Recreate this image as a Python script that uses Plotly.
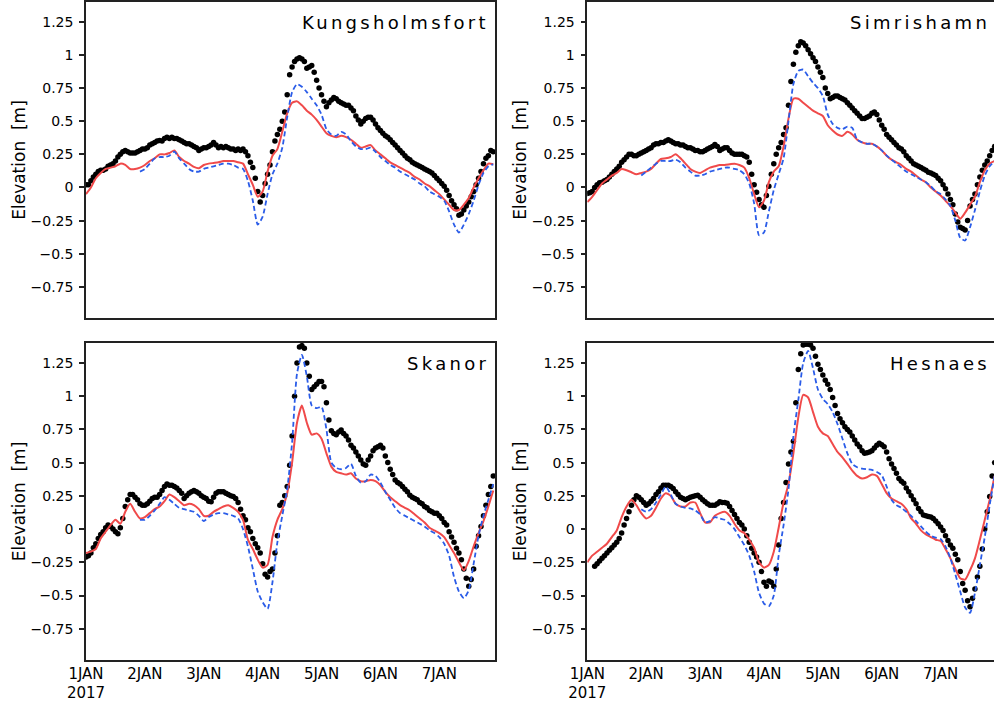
import plotly.graph_objects as go

# ---------------- data ----------------
stations = ["Kungsholmsfort", "Simrishamn", "Skanor", "Hesnaes"]

obs_hours = list(range(0, 167))        # hourly observations, hours since 1 JAN 2017 00:00
model_hours = list(range(0, 167, 2))   # 2-hourly model output

tick_hours = [0, 24, 48, 72, 96, 120, 144]
tick_labels = ["1JAN<br>2017", "2JAN", "3JAN", "4JAN", "5JAN", "6JAN", "7JAN"]
y_ticks = [1.25, 1, 0.75, 0.5, 0.25, 0, -0.25, -0.5, -0.75]
y_tick_labels = ["1.25", "1", "0.75", "0.5", "0.25", "0", "\u22120.25", "\u22120.5", "\u22120.75"]

# Kungsholmsfort
kung_obs = [
    0.02, 0.02, 0.05, 0.08, 0.10, 0.12, 0.13, 0.13, 0.14, 0.16, 0.17, 0.18,
    0.20, 0.23, 0.25, 0.27, 0.28, 0.27, 0.26, 0.26, 0.26, 0.27, 0.28, 0.29,
    0.29, 0.30, 0.32, 0.33, 0.34, 0.35, 0.355, 0.35, 0.37, 0.38, 0.37, 0.38,
    0.37, 0.37, 0.36, 0.35, 0.34, 0.33, 0.33, 0.32, 0.31, 0.30, 0.28, 0.29,
    0.30, 0.30, 0.31, 0.32, 0.34, 0.32, 0.30, 0.31, 0.30, 0.31, 0.30, 0.29,
    0.29, 0.28, 0.29, 0.28, 0.29, 0.27, 0.24, 0.19, 0.15, 0.07, -0.03, -0.11,
    -0.06, 0.03, 0.10, 0.17, 0.27, 0.35, 0.40, 0.44, 0.50, 0.57, 0.70, 0.85,
    0.91, 0.95, 0.97, 0.98, 0.97, 0.95, 0.90, 0.91, 0.92, 0.87, 0.81, 0.75,
    0.70, 0.65, 0.61, 0.64, 0.66, 0.68, 0.67, 0.65, 0.64, 0.63, 0.62, 0.62,
    0.60, 0.58, 0.54, 0.51, 0.48, 0.50, 0.52, 0.53, 0.53, 0.51, 0.48, 0.45,
    0.43, 0.41, 0.39, 0.38, 0.36, 0.34, 0.32, 0.30, 0.28, 0.26, 0.24, 0.22,
    0.21, 0.19, 0.18, 0.17, 0.16, 0.15, 0.14, 0.13, 0.12, 0.11, 0.09, 0.07,
    0.05, 0.03, 0.01, -0.02, -0.06, -0.10, -0.13, -0.16, -0.21, -0.20, -0.17, -0.14,
    -0.11, -0.07, -0.03, 0.02, 0.07, 0.12, 0.18, 0.22, 0.24, 0.28, 0.27,
]
kung_red = [
    -0.05, 0.00, 0.07, 0.11, 0.14, 0.15, 0.16, 0.18, 0.17, 0.14, 0.14, 0.15,
    0.17, 0.20, 0.22, 0.25, 0.25, 0.26, 0.28, 0.23, 0.20, 0.18, 0.155, 0.145,
    0.17, 0.18, 0.185, 0.19, 0.20, 0.20, 0.20, 0.19, 0.18, 0.10, 0.02, -0.07,
    -0.03, 0.12, 0.24, 0.29, 0.42, 0.56, 0.64, 0.65, 0.62, 0.58, 0.55, 0.51,
    0.46, 0.41, 0.39, 0.38, 0.39, 0.38, 0.36, 0.33, 0.30, 0.31, 0.32, 0.28,
    0.25, 0.22, 0.19, 0.17, 0.15, 0.13, 0.11, 0.08, 0.06, 0.03, 0.01, -0.02,
    -0.05, -0.09, -0.13, -0.17, -0.17, -0.13, -0.08, 0.00, 0.07, 0.13, 0.18, 0.175,
]
kung_blue = [
    None, None, None, None, None, None, None, None, None, None, None, 0.12,
    0.14, 0.18, 0.22, 0.23, 0.23, 0.24, 0.27, 0.22, 0.18, 0.14, 0.12, 0.12,
    0.14, 0.15, 0.16, 0.17, 0.18, 0.18, 0.17, 0.15, 0.14, 0.05, -0.10, -0.28,
    -0.22, -0.05, 0.10, 0.18, 0.30, 0.53, 0.72, 0.78, 0.76, 0.72, 0.67, 0.62,
    0.55, 0.44, 0.40, 0.39, 0.42, 0.40, 0.35, 0.31, 0.29, 0.29, 0.30, 0.27,
    0.23, 0.20, 0.17, 0.15, 0.12, 0.10, 0.08, 0.06, 0.03, 0.01, -0.03, -0.05,
    -0.07, -0.10, -0.18, -0.28, -0.34, -0.28, -0.20, -0.10, 0.02, 0.11, 0.16, 0.175,
]

# Simrishamn
simr_obs = [
    -0.045, -0.04, -0.03, 0.00, 0.02, 0.035, 0.04, 0.05, 0.06, 0.08, 0.10, 0.12,
    0.14, 0.16, 0.19, 0.21, 0.23, 0.25, 0.25, 0.24, 0.24, 0.25, 0.26, 0.27,
    0.28, 0.29, 0.30, 0.32, 0.33, 0.33, 0.34, 0.34, 0.35, 0.36, 0.35, 0.34,
    0.33, 0.33, 0.32, 0.32, 0.31, 0.30, 0.30, 0.29, 0.28, 0.28, 0.27, 0.27,
    0.28, 0.29, 0.30, 0.31, 0.325, 0.31, 0.28, 0.29, 0.30, 0.30, 0.28, 0.26,
    0.25, 0.25, 0.25, 0.25, 0.24, 0.23, 0.19, 0.10, 0.02, -0.035, -0.09, -0.13,
    -0.15, -0.06, 0.01, 0.10, 0.18, 0.25, 0.30, 0.34, 0.40, 0.45, 0.62, 0.80,
    0.93, 1.02, 1.07, 1.10, 1.09, 1.07, 1.04, 1.01, 0.98, 0.95, 0.91, 0.87,
    0.83, 0.75, 0.71, 0.67, 0.68, 0.69, 0.69, 0.68, 0.67, 0.66, 0.64, 0.62,
    0.60, 0.58, 0.56, 0.54, 0.52, 0.52, 0.53, 0.54, 0.56, 0.57, 0.55, 0.51,
    0.47, 0.44, 0.40, 0.38, 0.36, 0.34, 0.32, 0.30, 0.29, 0.27, 0.24, 0.22,
    0.20, 0.18, 0.17, 0.16, 0.15, 0.14, 0.13, 0.115, 0.11, 0.10, 0.09, 0.07,
    0.05, 0.02, -0.01, -0.05, -0.09, -0.13, -0.20, -0.26, -0.30, -0.31, -0.32, -0.25,
    -0.14, -0.09, -0.05, 0.02, 0.08, 0.13, 0.17, 0.20, 0.24, 0.28, 0.31,
]
simr_red = [
    -0.11, -0.07, -0.02, 0.03, 0.06, 0.09, 0.11, 0.14, 0.13, 0.115, 0.10, 0.11,
    0.12, 0.14, 0.18, 0.215, 0.22, 0.23, 0.25, 0.22, 0.18, 0.14, 0.12, 0.11,
    0.13, 0.15, 0.16, 0.17, 0.17, 0.175, 0.18, 0.17, 0.15, 0.07, -0.05, -0.15,
    -0.10, 0.04, 0.12, 0.16, 0.31, 0.52, 0.67, 0.67, 0.64, 0.61, 0.58, 0.56,
    0.54, 0.47, 0.43, 0.40, 0.39, 0.42, 0.40, 0.36, 0.34, 0.33, 0.33, 0.31,
    0.28, 0.24, 0.21, 0.19, 0.17, 0.14, 0.12, 0.09, 0.06, 0.04, 0.00, -0.03,
    -0.06, -0.10, -0.14, -0.19, -0.235, -0.19, -0.13, -0.07, 0.04, 0.13, 0.18, 0.20,
]
simr_blue = [
    None, None, None, None, None, None, None, None, None, None, None, 0.09,
    0.12, 0.15, 0.18, 0.20, 0.20, 0.20, 0.21, 0.19, 0.15, 0.12, 0.09, 0.09,
    0.10, 0.12, 0.13, 0.14, 0.15, 0.15, 0.14, 0.13, 0.10, 0.03, -0.12, -0.36,
    -0.34, -0.18, -0.02, 0.10, 0.22, 0.50, 0.78, 0.88, 0.89, 0.84, 0.79, 0.75,
    0.69, 0.55, 0.48, 0.45, 0.44, 0.46, 0.45, 0.36, 0.34, 0.33, 0.33, 0.31,
    0.28, 0.24, 0.21, 0.18, 0.15, 0.12, 0.10, 0.08, 0.06, 0.04, 0.01, -0.03,
    -0.05, -0.09, -0.14, -0.25, -0.38, -0.40, -0.30, -0.17, -0.03, 0.09, 0.16, 0.20,
]

# Skanor
skan_obs = [
    -0.21, -0.20, -0.18, -0.14, -0.11, -0.07, -0.04, -0.02, 0.01, 0.03, 0.02, 0.00,
    -0.02, -0.035, 0.01, 0.08, 0.17, 0.22, 0.26, 0.26, 0.24, 0.22, 0.19, 0.18,
    0.18, 0.19, 0.21, 0.23, 0.24, 0.24, 0.26, 0.29, 0.32, 0.34, 0.33, 0.33,
    0.32, 0.31, 0.29, 0.27, 0.23, 0.25, 0.27, 0.28, 0.29, 0.28, 0.27, 0.25,
    0.24, 0.23, 0.21, 0.205, 0.24, 0.27, 0.28, 0.28, 0.28, 0.27, 0.26, 0.25,
    0.245, 0.23, 0.20, 0.15, 0.10, 0.07, 0.01, -0.02, -0.07, -0.11, -0.14, -0.18,
    -0.26, -0.34, -0.36, -0.32, -0.30, -0.18, -0.05, 0.18, 0.20, 0.25, 0.32, 0.48,
    0.70, 1.00, 1.25, 1.37, 1.38, 1.36, 1.25, 1.15, 1.05, 1.07, 1.09, 1.11,
    1.11, 1.07, 0.95, 0.82, 0.74, 0.72, 0.71, 0.73, 0.745, 0.72, 0.70, 0.67,
    0.63, 0.61, 0.58, 0.55, 0.52, 0.49, 0.48, 0.52, 0.55, 0.59, 0.61, 0.62,
    0.63, 0.61, 0.55, 0.50, 0.45, 0.41, 0.37, 0.35, 0.34, 0.32, 0.30, 0.28,
    0.255, 0.24, 0.23, 0.22, 0.20, 0.19, 0.17, 0.16, 0.14, 0.13, 0.12, 0.12,
    0.10, 0.08, 0.05, 0.03, -0.02, -0.06, -0.10, -0.145, -0.18, -0.23, -0.30, -0.37,
    -0.43, -0.38, -0.30, -0.13, -0.05, 0.02, 0.10, 0.18, 0.26, 0.32, 0.40,
]
skan_red = [
    -0.18, -0.17, -0.15, -0.07, -0.02, 0.03, 0.07, 0.04, 0.13, 0.19, 0.13, 0.08,
    0.09, 0.12, 0.15, 0.17, 0.21, 0.26, 0.24, 0.21, 0.18, 0.19, 0.18, 0.15,
    0.10, 0.10, 0.13, 0.15, 0.17, 0.18, 0.16, 0.13, 0.07, -0.08, -0.15, -0.23,
    -0.29, -0.27, -0.06, 0.07, 0.15, 0.27, 0.50, 0.80, 0.93, 0.80, 0.71, 0.72,
    0.68, 0.57, 0.47, 0.43, 0.42, 0.41, 0.42, 0.38, 0.36, 0.36, 0.37, 0.36,
    0.33, 0.28, 0.24, 0.21, 0.18, 0.16, 0.14, 0.11, 0.08, 0.05, 0.01, -0.01,
    -0.03, -0.06, -0.12, -0.18, -0.25, -0.31, -0.24, -0.13, -0.03, 0.06, 0.17, 0.29,
]
skan_blue = [
    None, None, None, None, None, None, None, None, None, None, None, 0.07,
    0.07, 0.10, 0.14, 0.19, 0.24, 0.22, 0.19, 0.16, 0.15, 0.14, 0.13, 0.10,
    0.06, 0.09, 0.11, 0.12, 0.12, 0.11, 0.10, 0.08, 0.00, -0.13, -0.30, -0.47,
    -0.55, -0.60, -0.40, -0.10, 0.10, 0.30, 0.65, 1.17, 1.31, 1.15, 0.93, 0.91,
    0.92, 0.75, 0.50, 0.46, 0.45, 0.46, 0.49, 0.40, 0.35, 0.36, 0.41, 0.40,
    0.35, 0.28, 0.22, 0.16, 0.12, 0.10, 0.08, 0.06, 0.04, 0.02, -0.01, -0.03,
    -0.06, -0.11, -0.20, -0.36, -0.47, -0.52, -0.46, -0.26, -0.05, 0.10, 0.22, 0.34,
]

# Hesnaes
hesn_obs = [
    None, None, None, -0.28, -0.26, -0.24, -0.22, -0.20, -0.18, -0.16, -0.14, -0.12,
    -0.10, -0.07, -0.03, 0.03, 0.08, 0.13, 0.18, 0.22, 0.25, 0.24, 0.22, 0.20,
    0.18, 0.19, 0.21, 0.23, 0.26, 0.28, 0.31, 0.33, 0.33, 0.33, 0.32, 0.305,
    0.28, 0.26, 0.24, 0.23, 0.22, 0.23, 0.24, 0.245, 0.25, 0.255, 0.24, 0.22,
    0.205, 0.19, 0.18, 0.18, 0.18, 0.19, 0.205, 0.20, 0.20, 0.195, 0.17, 0.14,
    0.11, 0.08, 0.05, 0.03, 0.00, -0.05, -0.10, -0.145, -0.18, -0.21, -0.25, -0.32,
    -0.40, -0.43, -0.39, -0.40, -0.43, -0.30, -0.12, 0.08, 0.20, 0.35, 0.49, 0.58,
    0.66, 0.95, 1.20, 1.32, 1.385, 1.39, 1.39, 1.385, 1.36, 1.30, 1.24, 1.20,
    1.16, 1.12, 1.09, 1.05, 0.99, 0.93, 0.87, 0.83, 0.80, 0.77, 0.75, 0.73,
    0.70, 0.67, 0.64, 0.62, 0.59, 0.57, 0.575, 0.58, 0.59, 0.61, 0.63, 0.645,
    0.635, 0.62, 0.58, 0.53, 0.49, 0.455, 0.42, 0.38, 0.36, 0.345, 0.31, 0.28,
    0.25, 0.22, 0.19, 0.155, 0.13, 0.105, 0.10, 0.095, 0.09, 0.08, 0.06, 0.04,
    0.015, -0.01, -0.05, -0.085, -0.12, -0.145, -0.19, -0.23, -0.32, -0.41, -0.46, -0.54,
    -0.585, -0.52, -0.45, -0.36, -0.28, -0.15, 0.00, 0.13, 0.245, 0.40, 0.50,
]
hesn_red = [
    -0.25, -0.20, -0.17, -0.14, -0.11, -0.06, -0.01, 0.09, 0.17, 0.22, 0.18, 0.12,
    0.08, 0.10, 0.16, 0.23, 0.27, 0.25, 0.19, 0.17, 0.17, 0.20, 0.20, 0.12,
    0.05, 0.05, 0.10, 0.12, 0.13, 0.10, 0.04, -0.01, -0.03, -0.08, -0.14, -0.25,
    -0.29, -0.27, -0.17, 0.01, 0.20, 0.34, 0.57, 0.84, 1.01, 0.99, 0.88, 0.77,
    0.72, 0.70, 0.64, 0.58, 0.54, 0.49, 0.44, 0.40, 0.38, 0.39, 0.41, 0.40,
    0.34, 0.27, 0.23, 0.21, 0.19, 0.15, 0.08, 0.04, -0.01, -0.04, -0.06, -0.08,
    -0.09, -0.15, -0.22, -0.30, -0.37, -0.38, -0.31, -0.22, -0.08, 0.07, 0.22, 0.40,
]
hesn_blue = [
    None, None, None, None, None, None, None, None, None, None, None, 0.15,
    0.13, 0.15, 0.20, 0.26, 0.32, 0.26, 0.19, 0.17, 0.16, 0.155, 0.14, 0.11,
    0.05, 0.06, 0.09, 0.08, 0.07, 0.04, 0.00, -0.06, -0.12, -0.20, -0.32, -0.48,
    -0.56, -0.58, -0.50, -0.20, 0.03, 0.30, 0.70, 0.97, 1.25, 1.34, 1.21, 1.05,
    0.98, 0.94, 0.88, 0.79, 0.68, 0.57, 0.49, 0.465, 0.455, 0.45, 0.445, 0.43,
    0.405, 0.32, 0.22, 0.18, 0.16, 0.13, 0.10, 0.06, 0.02, -0.02, -0.05, -0.065,
    -0.075, -0.13, -0.22, -0.34, -0.47, -0.59, -0.63, -0.48, -0.27, -0.06, 0.18, 0.40,
]

panel_obs = [kung_obs, simr_obs, skan_obs, hesn_obs]
panel_red = [kung_red, simr_red, skan_red, hesn_red]
panel_blue = [kung_blue, simr_blue, skan_blue, hesn_blue]

# ---------------- layout geometry (page pixels) ----------------
W, H = 994, 702
left_px = [86, 587.3]
panel_w = 409.0
top_rows = [(2, 318), (343, 660)]
y_range = [-0.985, 1.40]
hours_per_px = 166.7 / panel_w

fig = go.Figure()
axis_font = dict(family="DejaVu Sans", size=14, color="black")

for i, name in enumerate(stations):
    row, col = divmod(i, 2)
    n = i + 1
    xa = "x" if n == 1 else f"x{n}"
    ya = "y" if n == 1 else f"y{n}"
    x0 = left_px[col]
    x1 = min(x0 + panel_w, W)
    x_max = (x1 - x0) * hours_per_px
    y_top, y_bot = top_rows[row]

    obs = panel_obs[i]
    fig.add_trace(go.Scatter(
        x=obs_hours[:len(obs)], y=obs, mode="markers",
        marker=dict(color="black", size=5.5), xaxis=xa, yaxis=ya,
        showlegend=False, hoverinfo="skip"))
    red = panel_red[i]
    fig.add_trace(go.Scatter(
        x=model_hours[:len(red)], y=red, mode="lines",
        line=dict(color="#f04a4a", width=2, shape="spline", smoothing=0.6),
        xaxis=xa, yaxis=ya, showlegend=False, hoverinfo="skip"))
    blue = panel_blue[i]
    fig.add_trace(go.Scatter(
        x=model_hours[:len(blue)], y=blue, mode="lines",
        line=dict(color="#2a5ce8", width=1.8, dash="5px,3px", shape="spline", smoothing=0.6),
        xaxis=xa, yaxis=ya, showlegend=False, hoverinfo="skip"))

    xkey = "xaxis" if n == 1 else f"xaxis{n}"
    ykey = "yaxis" if n == 1 else f"yaxis{n}"
    fig.layout[xkey] = dict(
        domain=[x0 / W, x1 / W], anchor=ya, range=[0, x_max], automargin=False,
        tickmode="array", tickvals=tick_hours, ticktext=tick_labels,
        showticklabels=(row == 1), ticks="",
        showline=True, linecolor="#222", linewidth=1.5,
        mirror=True, showgrid=False, zeroline=False, ticklabelstandoff=-1,
        tickfont=dict(family="DejaVu Sans", size=15, color="black"))
    fig.layout[ykey] = dict(
        domain=[1 - y_bot / H, 1 - y_top / H], anchor=xa, range=y_range, automargin=False,
        tickmode="array", tickvals=y_ticks, ticktext=y_tick_labels,
        ticks="outside", ticklen=5, tickwidth=1.5, tickcolor="#222",
        showline=True, linecolor="#222", linewidth=1.5,
        mirror=(col == 0), showgrid=False, zeroline=False, ticklabelstandoff=3,
        tickfont=axis_font,
        title=dict(text="Elevation\u00a0\u00a0[m]", font=dict(family="DejaVu Sans", size=17, color="black"),
                   standoff=1))
    fig.add_annotation(
        xref="paper", yref="paper",
        x=min(x0 + panel_w - 4, W - 2) / W, y=1 - (y_top + 20) / H,
        xanchor="right", yanchor="middle", showarrow=False,
        text=f'<span style="letter-spacing:3.3px">{name}</span>',
        font=dict(family="DejaVu Sans", size=18, color="black"))

fig.update_layout(
    width=W, height=H, margin=dict(l=0, r=0, t=0, b=0, autoexpand=False),
    paper_bgcolor="white", plot_bgcolor="white", showlegend=False)

# remove the browser's default 8px page margin so the figure fills the window
fig.write_html("out.html", config={"displayModeBar": False},
               post_script="document.body.style.margin='0';")
